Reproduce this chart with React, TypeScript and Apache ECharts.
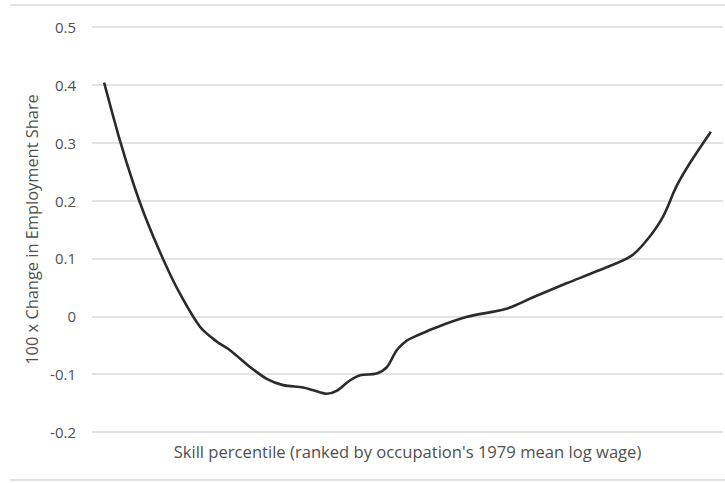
import React, { useEffect, useRef } from "react";
import * as echarts from "echarts";

const percentiles = [0, 2.6, 4.8, 7.0, 9.8, 12.5, 15.8, 18.6, 20.8, 24.1, 26.8, 29.5, 32.8, 34.5, 36.7, 38.3, 40.5, 42.2, 44.9, 46.6, 48.2, 49.9, 51.0, 54.3, 59.8, 66.3, 70.7, 76.2, 81.7, 86.7, 89.4, 92.1, 94.3, 96.5, 100];
const shareChange = [0.404, 0.304, 0.230, 0.166, 0.097, 0.039, -0.018, -0.044, -0.059, -0.088, -0.108, -0.119, -0.123, -0.128, -0.134, -0.129, -0.111, -0.102, -0.099, -0.088, -0.059, -0.042, -0.036, -0.021, -0.001, 0.013, 0.033, 0.057, 0.080, 0.103, 0.131, 0.172, 0.224, 0.264, 0.319];
const yTicks = [-0.2, -0.1, 0, 0.1, 0.2, 0.3, 0.4, 0.5];

const xTitle = "Skill percentile (ranked by occupation's 1979 mean log wage)";
const yTitle = "100 x Change in Employment Share";

export default function App() {
  const ref = useRef<HTMLDivElement>(null);
  useEffect(() => {
    if (!ref.current) return;
    const chart = echarts.init(ref.current, undefined, { renderer: "svg" });
    const font = "'Open Sans', 'Noto Sans', sans-serif";
    chart.setOption({
      animation: false,
      backgroundColor: "#ffffff",
      grid: { left: 92, right: 2, top: 27, bottom: 51, containLabel: false },
      xAxis: {
        type: "value",
        min: -2,
        max: 102,
        axisLine: { show: false },
        axisTick: { show: false },
        axisLabel: { show: false },
        splitLine: { show: false },
        name: xTitle,
        nameLocation: "middle",
        nameGap: 11,
        nameTextStyle: { color: "#505050", fontSize: 16.6, fontFamily: font },
      },
      yAxis: {
        type: "value",
        min: -0.2,
        max: 0.5,
        interval: 0.1,
        axisLine: { show: false },
        axisTick: { show: false },
        axisLabel: {
          color: "#505050",
          fontSize: 15,
          fontFamily: font,
          margin: 16,
          formatter: (v: number) => {
            const r = Math.round(v * 10) / 10;
            const found = yTicks.find((t) => Math.abs(t - r) < 1e-9);
            return found === undefined ? "" : found === 0 ? "0" : String(found);
          },
        },
        splitLine: { lineStyle: { color: "#d9d9d9", width: 1.5 } },
        name: yTitle,
        nameLocation: "middle",
        nameGap: 53,
        nameRotate: 90,
        nameTextStyle: { color: "#505050", fontSize: 16.4, fontFamily: font },
      },
      graphic: [
        { type: "line", shape: { x1: 10, y1: 5, x2: 725, y2: 5 }, style: { stroke: "#d9d9d9", lineWidth: 1.5 } },
        { type: "line", shape: { x1: 10, y1: 480, x2: 725, y2: 480 }, style: { stroke: "#d9d9d9", lineWidth: 1.5 } },
      ],
      series: [
        {
          type: "line",
          data: percentiles.map((p, i) => [p, shareChange[i]]),
          smooth: 0.3,
          showSymbol: false,
          lineStyle: { color: "#2b2b2b", width: 2.6 },
        },
      ],
    });
    return () => chart.dispose();
  }, []);
  return <div ref={ref} style={{ position: "absolute", left: 0, top: 0, width: 725, height: 483 }} />;
}
